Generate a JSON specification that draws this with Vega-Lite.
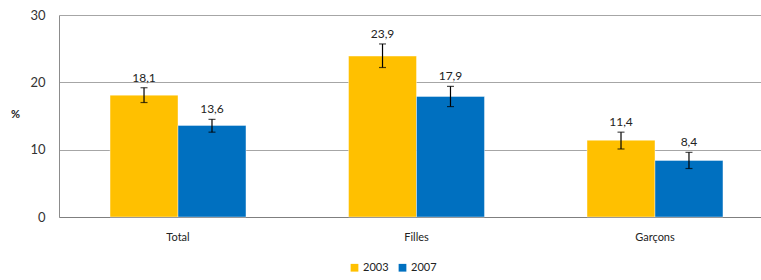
{
  "$schema": "https://vega.github.io/schema/vega-lite/v6.json",
  "width": 701,
  "height": 202,
  "autosize": {"type": "none"},
  "padding": {"left": 59, "top": 15, "right": 1, "bottom": 63},
  "background": "white",
  "config": {
    "font": "Lato",
    "view": {"stroke": null}
  },
  "data": {
    "values": [
      {"groupe": "Total", "annee": "2003", "valeur": 18.1, "lo": 17.0, "hi": 19.2, "label": "18,1"},
      {"groupe": "Total", "annee": "2007", "valeur": 13.6, "lo": 12.6, "hi": 14.5, "label": "13,6"},
      {"groupe": "Filles", "annee": "2003", "valeur": 23.9, "lo": 22.2, "hi": 25.7, "label": "23,9"},
      {"groupe": "Filles", "annee": "2007", "valeur": 17.9, "lo": 16.4, "hi": 19.4, "label": "17,9"},
      {"groupe": "Garçons", "annee": "2003", "valeur": 11.4, "lo": 10.1, "hi": 12.6, "label": "11,4"},
      {"groupe": "Garçons", "annee": "2007", "valeur": 8.4, "lo": 7.2, "hi": 9.6, "label": "8,4"}
    ]
  },
  "encoding": {
    "x": {
      "field": "groupe",
      "type": "nominal",
      "sort": ["Total", "Filles", "Garçons"],
      "scale": {"paddingInner": 0.43, "paddingOuter": 0.214, "range": [0, 715]},
      "axis": {
        "title": null,
        "labelAngle": 0,
        "ticks": false,
        "labelPadding": 14,
        "labelFontSize": 11,
        "labelColor": "#222222",
        "domainColor": "#7f7f7f",
        "domainWidth": 1
      }
    },
    "xOffset": {"field": "annee", "type": "nominal", "sort": ["2003", "2007"], "scale": {"paddingInner": 0}}
  },
  "layer": [
    {
      "mark": {"type": "bar", "stroke": "#ffffff", "strokeOpacity": 0.4, "strokeWidth": 1},
      "encoding": {
        "y": {
          "field": "valeur",
          "type": "quantitative",
          "scale": {"domain": [0, 30]},
          "axis": {
            "values": [0, 10, 20, 30],
            "title": "%",
            "titleAngle": 0,
            "titleFontSize": 11,
            "titleFontWeight": "bold",
            "titleColor": "#222222",
            "titleX": -44,
            "titleY": 104,
            "titleAlign": "center",
            "labelFontSize": 13,
            "labelColor": "#333333",
            "labelPadding": 14,
            "ticks": false,
            "grid": true,
            "gridColor": "#a6a6a6",
            "domainColor": "#8c8c8c"
          }
        },
        "color": {
          "field": "annee",
          "type": "nominal",
          "scale": {"domain": ["2003", "2007"], "range": ["#FFC000", "#0070C0"]},
          "legend": {
            "title": null,
            "orient": "none",
            "direction": "horizontal",
            "legendX": 290,
            "legendY": 247,
            "symbolType": "square",
            "symbolSize": 60,
            "symbolStrokeWidth": 0,
            "labelFontSize": 11,
            "labelColor": "#222222",
            "columnPadding": 8,
            "labelOffset": 3
          }
        }
      }
    },
    {
      "mark": {"type": "rule", "color": "#000000", "strokeWidth": 1.2},
      "encoding": {
        "y": {"field": "lo", "type": "quantitative"},
        "y2": {"field": "hi"}
      }
    },
    {
      "mark": {"type": "tick", "color": "#000000", "thickness": 1.2, "size": 7, "orient": "horizontal"},
      "encoding": {
        "y": {"field": "lo", "type": "quantitative"}
      }
    },
    {
      "mark": {"type": "tick", "color": "#000000", "thickness": 1.2, "size": 7, "orient": "horizontal"},
      "encoding": {
        "y": {"field": "hi", "type": "quantitative"}
      }
    },
    {
      "mark": {"type": "text", "baseline": "middle", "dy": -10, "fontSize": 12, "color": "#222222"},
      "encoding": {
        "y": {"field": "hi", "type": "quantitative"},
        "text": {"field": "label", "type": "nominal"}
      }
    }
  ]
}
